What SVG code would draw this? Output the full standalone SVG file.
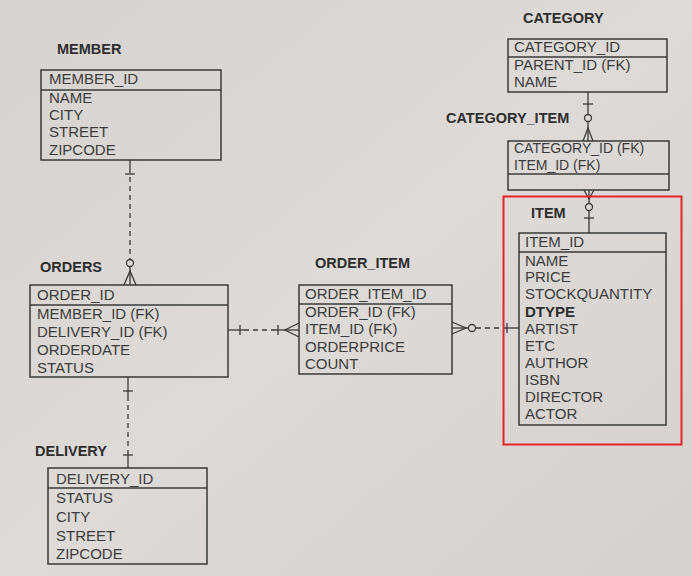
<svg xmlns="http://www.w3.org/2000/svg" width="692" height="576" viewBox="0 0 692 576">
<defs>
<linearGradient id="paper" x1="0" y1="0" x2="1" y2="1">
<stop offset="0" stop-color="#d6d3d0"/>
<stop offset="0.5" stop-color="#dddad7"/>
<stop offset="1" stop-color="#d4d1ce"/>
</linearGradient>
</defs>
<style>
.box{fill:none;stroke:#3a3a3a;stroke-width:1.5}
.sep{stroke:#3a3a3a;stroke-width:1.5}
.title{font-family:"Liberation Sans",Arial,sans-serif;font-weight:bold;font-size:14.5px;fill:#2e2e2e}
.attr{font-family:"Liberation Sans",Arial,sans-serif;font-size:15px;fill:#3c3c3c}
.sm{font-size:14px}
.b{font-weight:bold;fill:#2e2e2e}
.ln{stroke:#3a3a3a;stroke-width:1.3;fill:none}
.dash{stroke-dasharray:5,4}
.circ{fill:#dcd9d6;stroke:#3a3a3a;stroke-width:1.3}
</style>
<rect x="0" y="0" width="692" height="576" fill="url(#paper)"/>

<g id="connectors">
<!-- MEMBER - ORDERS -->
<line class="ln" x1="130" y1="160" x2="130" y2="168"/>
<line class="ln dash" x1="130" y1="168" x2="130" y2="259"/>
<line class="ln" x1="125" y1="174" x2="135" y2="174"/>
<circle class="circ" cx="130" cy="263" r="3.5"/>
<line class="ln" x1="130" y1="267" x2="130" y2="285"/>
<path class="ln" d="M124,285 L130,271 L136,285"/>
<!-- ORDERS - ORDER_ITEM -->
<line class="ln" x1="228" y1="330" x2="244" y2="330"/>
<line class="ln dash" x1="244" y1="330" x2="276" y2="330"/>
<line class="ln" x1="276" y1="330" x2="299" y2="330"/>
<line class="ln" x1="240" y1="325" x2="240" y2="335"/>
<line class="ln" x1="278" y1="325" x2="278" y2="335"/>
<path class="ln" d="M299,323 L285,330 L299,337"/>
<!-- ORDER_ITEM - ITEM -->
<path class="ln" d="M452,322 L466,328 L452,334"/>
<line class="ln" x1="452" y1="328" x2="468" y2="328"/>
<circle class="circ" cx="472" cy="328" r="3.5"/>
<line class="ln dash" x1="476" y1="328" x2="507" y2="328"/>
<line class="ln" x1="507" y1="328" x2="519" y2="328"/>
<line class="ln" x1="507" y1="323" x2="507" y2="333"/>
<!-- CATEGORY - CATEGORY_ITEM -->
<line class="ln" x1="588" y1="92" x2="588" y2="114"/>
<line class="ln" x1="583" y1="104" x2="593" y2="104"/>
<circle class="circ" cx="588" cy="118" r="3.5"/>
<line class="ln" x1="588" y1="122" x2="588" y2="141"/>
<path class="ln" d="M583,141 L588,128 L593,141"/>
<!-- CATEGORY_ITEM - ITEM -->
<line class="ln" x1="589" y1="190" x2="589" y2="203"/>
<path class="ln" d="M584,190 L589,199 L594,190"/>
<circle class="circ" cx="589" cy="207" r="3.5"/>
<line class="ln" x1="589" y1="211" x2="589" y2="233"/>
<line class="ln" x1="584" y1="218" x2="594" y2="218"/>
<!-- ORDERS - DELIVERY -->
<line class="ln" x1="128" y1="377" x2="128" y2="396"/>
<line class="ln" x1="123" y1="391" x2="133" y2="391"/>
<line class="ln dash" x1="128" y1="396" x2="128" y2="450"/>
<line class="ln" x1="128" y1="450" x2="128" y2="468"/>
<line class="ln" x1="123" y1="455" x2="133" y2="455"/>
</g>

<g id="member">
<text class="title" x="57" y="54">MEMBER</text>
<rect class="box" x="41" y="70" width="180" height="90"/>
<line class="sep" x1="41" y1="90" x2="221" y2="90"/>
<text class="attr" x="49" y="84">MEMBER_ID</text>
<text class="attr" x="49" y="103">NAME</text>
<text class="attr" x="49" y="120">CITY</text>
<text class="attr" x="49" y="137">STREET</text>
<text class="attr" x="49" y="155">ZIPCODE</text>
</g>

<g id="orders">
<text class="title" x="40" y="272">ORDERS</text>
<rect class="box" x="30" y="285" width="198" height="92"/>
<line class="sep" x1="30" y1="305" x2="228" y2="305"/>
<text class="attr" x="37" y="300">ORDER_ID</text>
<text class="attr" x="37" y="319">MEMBER_ID (FK)</text>
<text class="attr" x="37" y="337">DELIVERY_ID (FK)</text>
<text class="attr" x="37" y="355">ORDERDATE</text>
<text class="attr" x="37" y="373">STATUS</text>
</g>

<g id="order_item">
<text class="title" x="315" y="268">ORDER_ITEM</text>
<rect class="box" x="299" y="285" width="153" height="89"/>
<line class="sep" x1="299" y1="304" x2="452" y2="304"/>
<text class="attr" x="305" y="299">ORDER_ITEM_ID</text>
<text class="attr" x="305" y="317">ORDER_ID (FK)</text>
<text class="attr" x="305" y="334">ITEM_ID (FK)</text>
<text class="attr" x="305" y="352">ORDERPRICE</text>
<text class="attr" x="305" y="369">COUNT</text>
</g>

<g id="category">
<text class="title" x="523" y="23">CATEGORY</text>
<rect class="box" x="508" y="39" width="159" height="53"/>
<line class="sep" x1="508" y1="57" x2="667" y2="57"/>
<text class="attr" x="514" y="52">CATEGORY_ID</text>
<text class="attr" x="514" y="70">PARENT_ID (FK)</text>
<text class="attr" x="514" y="87">NAME</text>
</g>

<g id="category_item">
<text class="title" x="446" y="123">CATEGORY_ITEM</text>
<rect class="box" x="508" y="141" width="161" height="49"/>
<line class="sep" x1="508" y1="174" x2="669" y2="174"/>
<text class="attr sm" x="514" y="153">CATEGORY_ID (FK)</text>
<text class="attr sm" x="514" y="169.5">ITEM_ID (FK)</text>
</g>

<g id="item">
<text class="title" x="531" y="218">ITEM</text>
<rect class="box" x="519" y="233" width="147" height="192"/>
<line class="sep" x1="519" y1="252" x2="666" y2="252"/>
<text class="attr" x="525" y="247">ITEM_ID</text>
<text class="attr" x="525" y="266">NAME</text>
<text class="attr" x="525" y="282">PRICE</text>
<text class="attr" x="525" y="299">STOCKQUANTITY</text>
<text class="attr b" x="525" y="317">DTYPE</text>
<text class="attr" x="525" y="334">ARTIST</text>
<text class="attr" x="525" y="351">ETC</text>
<text class="attr" x="525" y="368">AUTHOR</text>
<text class="attr" x="525" y="385">ISBN</text>
<text class="attr" x="525" y="402">DIRECTOR</text>
<text class="attr" x="525" y="419">ACTOR</text>
</g>

<g id="delivery">
<text class="title" x="35" y="456">DELIVERY</text>
<rect class="box" x="48" y="468" width="159" height="96"/>
<line class="sep" x1="48" y1="488" x2="207" y2="488"/>
<text class="attr" x="56" y="484">DELIVERY_ID</text>
<text class="attr" x="56" y="503">STATUS</text>
<text class="attr" x="56" y="522">CITY</text>
<text class="attr" x="56" y="541">STREET</text>
<text class="attr" x="56" y="559">ZIPCODE</text>
</g>

<rect id="highlight" x="503.5" y="196.5" width="178" height="248" fill="none" stroke="#e8242b" stroke-width="2"/>
</svg>
